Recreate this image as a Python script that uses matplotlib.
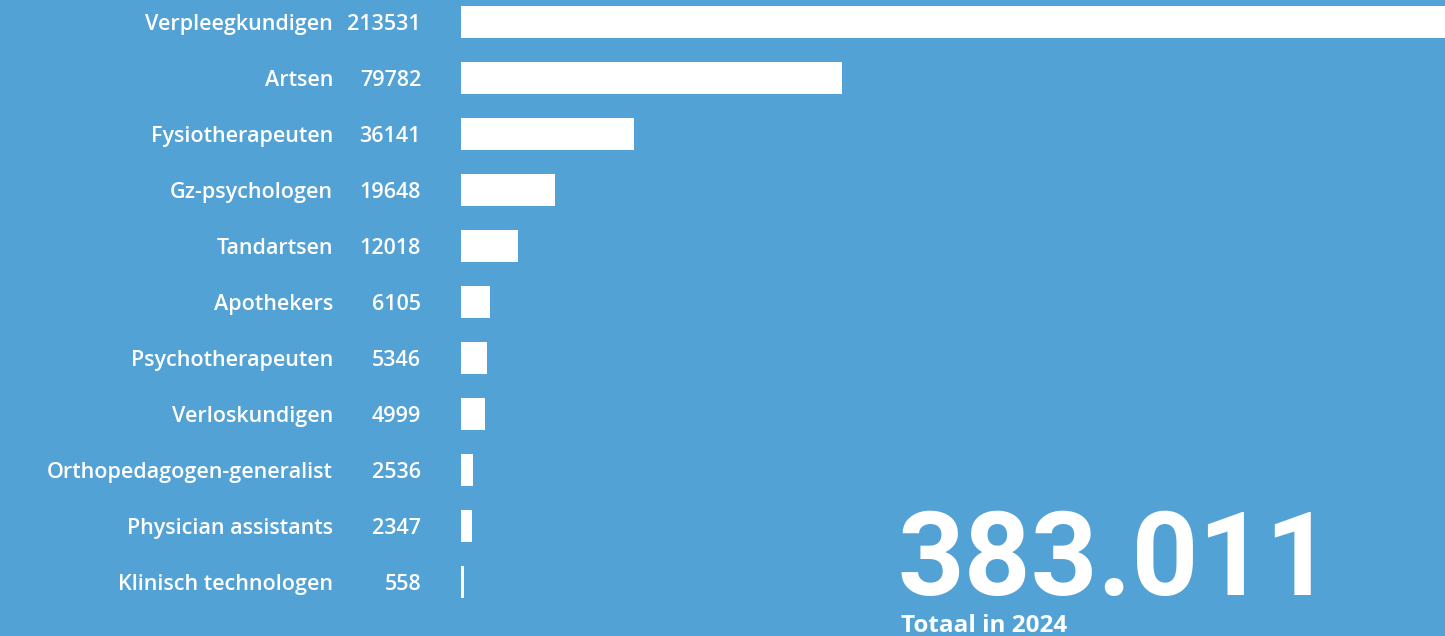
import matplotlib
matplotlib.use("Agg")
import matplotlib.pyplot as plt
import matplotlib.transforms as mtransforms

categories = ["Verpleegkundigen", "Artsen", "Fysiotherapeuten", "Gz-psychologen",
              "Tandartsen", "Apothekers", "Psychotherapeuten", "Verloskundigen",
              "Orthopedagogen-generalist", "Physician assistants", "Klinisch technologen"]
values = [213531, 79782, 36141, 19648, 12018, 6105, 5346, 4999, 2536, 2347, 558]
total_label = "383.011"
total_caption = "Totaal in 2024"

BG = "#53A2D5"
W, H = 1445, 636
fig = plt.figure(figsize=(W / 100, H / 100), dpi=100, facecolor=BG)
ax = fig.add_axes([461 / W, 0, 1 - 461 / W, 1])
ax.set_facecolor(BG)

ypos = list(range(len(categories)))
ax.barh(ypos, values, height=0.57, color="white", edgecolor="none")
ax.set_xlim(0, 206000)
ax.set_ylim((636 - 22) / 56, -22 / 56)
ax.axis("off")

font = "Open Sans"
tr = mtransforms.blended_transform_factory(fig.transFigure, ax.transData)
for y, c, v in zip(ypos, categories, values):
    ax.text(333 / W, y, c, transform=tr, ha="right", va="center_baseline",
            color="white", fontsize=15.5, family=font, fontweight="semibold")
    ax.text(421 / W, y, str(v), transform=tr, ha="right", va="center_baseline",
            color="white", fontsize=15.5, family=font, fontweight="semibold")

fig.text(897 / W, (636 - 595) / H, total_label, ha="left", va="baseline",
         color="white", fontsize=84, family="Roboto", fontweight="bold")
fig.text(901 / W, 4 / H, total_caption, ha="left", va="baseline",
         color="white", fontsize=17.5, family=font, fontweight="bold")

fig.savefig("out.png", dpi=100, facecolor=BG)
